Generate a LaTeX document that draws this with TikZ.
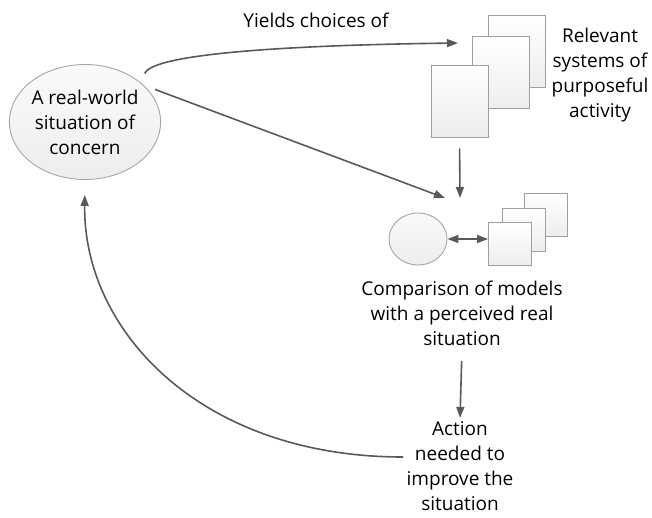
\documentclass[tikz,border=0pt]{standalone}
\usepackage{fontspec}
\setmainfont{Open Sans}
\usetikzlibrary{arrows.meta,shapes.geometric}

\begin{document}
\begin{tikzpicture}[x=1pt,y=-1pt,
  every node/.style={font=\fontsize{19}{25}\selectfont,align=center},
  blob/.style={ellipse,draw=gray!70,line width=0.9pt,top color=gray!4,bottom color=gray!14,inner sep=0pt},
  page/.style={rectangle,draw=gray!75,line width=0.9pt,top color=white,bottom color=gray!14,inner sep=0pt},
  arr/.style={draw=black!65,line width=1.6pt,-{Triangle[length=11pt,width=8pt]}}]
  \useasboundingbox (0,0) rectangle (652,517);
  % real-world situation
  \node[blob,minimum width=150,minimum height=115] (situation) at (85,122) {A real-world\\situation of\\concern};
  \node (yields) at (316,20) {Yields choices of};
  % relevant systems
  \node[page,minimum width=57,minimum height=72] (relback) at (516.5,51) {};
  \node[page,minimum width=57,minimum height=72] (relmid) at (500.5,72) {};
  \node[page,minimum width=57,minimum height=72] (relfront) at (459.5,101) {};
  \node (relevant) at (600,75) {Relevant\\systems of\\purposeful\\activity};
  % comparison
  \node[blob,minimum width=58,minimum height=52] (perceived) at (418,239) {};
  \node[page,minimum width=43,minimum height=43] (modback) at (545.5,214.5) {};
  \node[page,minimum width=43,minimum height=43] (modmid) at (524,229.5) {};
  \node[page,minimum width=43,minimum height=43] (modfront) at (510,243.5) {};
  \node (comparison) at (462,313) {Comparison of models\\with a perceived real\\situation};
  \node (action) at (460,466) {Action\\needed to\\improve the\\situation};
  \coordinate (yieldsend) at (458,43);
  \coordinate (meet) at (460,198);
  % connectors
  \draw[arr,shorten <=10pt] (situation.35) .. controls +(12,-30) and (300,45) .. (yieldsend);
  \draw[arr,shorten <=12pt] (situation.32) -- ([xshift=-15pt]meet);
  \draw[arr,shorten <=11pt] (relfront.south) -- (meet);
  \draw[arr,{Triangle[length=11pt,width=8pt]}-{Triangle[length=11pt,width=8pt]}] (perceived.east) -- (perceived.east -| modfront.west);
  \draw[arr,shorten <=12pt,shorten >=0pt] (comparison.south) -- (action.north);
  \draw[arr,shorten >=15pt] ([yshift=9pt]action.west) .. controls (200,457) and (83,330) .. (situation.south);
\end{tikzpicture}
\end{document}
